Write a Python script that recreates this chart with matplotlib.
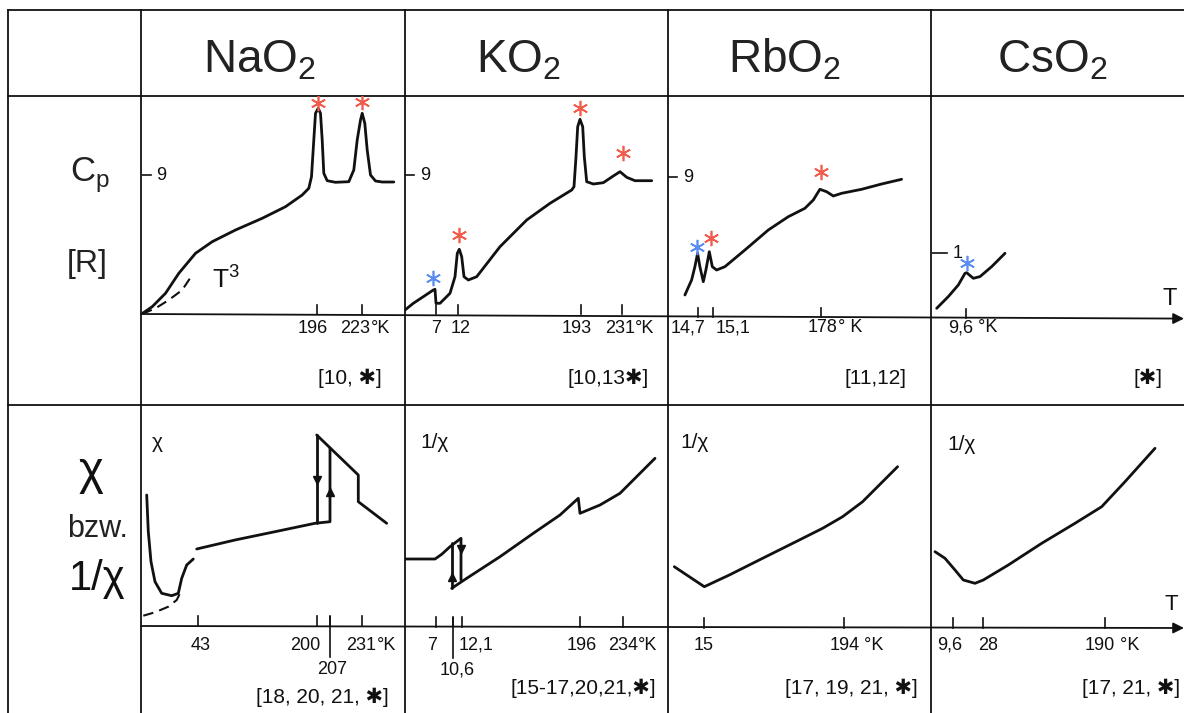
import matplotlib.pyplot as plt

plt.rcParams['font.family'] = ['Liberation Sans', 'DejaVu Sans']
plt.rcParams['mathtext.fontset'] = 'custom'
plt.rcParams['mathtext.rm'] = 'Liberation Sans'

# header / references
compounds = ['NaO', 'KO', 'RbO', 'CsO']
cp_refs = ['[10, ✱]', '[10,13✱]', '[11,12]', '[✱]']
chi_refs = ['[18, 20, 21, ✱]', '[15-17,20,21,✱]', '[17, 19, 21, ✱]', '[17, 21, ✱]']
chi_panel_labels = ['χ', '1/χ', '1/χ', '1/χ']

# ---- Cp row (schematic units, origin = axis crossing) ----
na_cp_x = [0, 10.7, 24, 37.3, 54, 70.7, 94, 120.7, 144, 160.7, 167.3, 170, 172.3, 174, 176.7, 179,
           180.7, 182.3, 185.7, 194, 207.3, 212.3, 215.7, 219, 220.7, 223.3, 225.7, 229, 234, 240.7, 252.3]
na_cp_y = [0, 7.3, 20.7, 40.7, 60.7, 72.3, 84, 95.7, 107.3, 119, 125.7, 137.3, 174, 200.7, 205.7, 200.7,
           174, 140.7, 133.3, 131.7, 132.3, 144, 174, 194, 200.7, 190.7, 164, 139, 133, 132, 132]
na_t3_x = [0.7, 14, 27.3, 40.7, 50.7]
na_t3_y = [0, 5.7, 14, 24, 39]

k_cp_x = [0, 8.3, 18.3, 28.3, 30, 31, 35, 45, 50, 52.3, 54.3, 56.7, 59, 63.3, 71.7, 95, 121.7, 145,
          166.7, 169, 171, 172.7, 175, 177.7, 179.3, 181.7, 188.3, 198.3, 208.3, 215, 221.7, 230, 246.7]
k_cp_y = [4, 10.7, 17.3, 24, 24.7, 10.7, 10.7, 20.7, 37.3, 60.7, 64.7, 57.3, 37.3, 34, 37.3, 67.3, 94,
          110.7, 124, 127.3, 157.3, 187.3, 194.7, 187.3, 157.3, 132.3, 130, 131.3, 138, 142.3, 136.7, 133.3, 133.3]

rb_cp_x = [16.6, 23.3, 26.6, 29.3, 31.6, 35, 37.6, 41, 44, 48.3, 56.6, 76.6, 100, 120, 136.6, 145,
           151.6, 158.3, 165, 173.3, 193.3, 213.3, 233.3]
rb_cp_y = [21.7, 36.7, 50, 63.4, 50, 35, 46.7, 65, 50, 46.7, 50, 66.7, 86.7, 100, 108.4, 116.7,
           127.4, 125, 120.7, 123.4, 127.4, 132.7, 137.4]

cs_cp_x = [5, 16.6, 26.6, 33.3, 35, 41.6, 48.3, 60, 73.3]
cs_cp_y = [10, 21.7, 33.3, 45, 45.6, 40, 41.7, 51.7, 65]

# transition markers (asterisks): x, y, colour
na_star_x, na_star_y, na_star_c = [176.7, 220.7], [211, 212], ['r', 'r']
k_star_x, k_star_y, k_star_c = [28.3, 54.3, 175, 217.7], [35.7, 79, 205.7, 160.7], ['b', 'r', 'r', 'r']
rb_star_x, rb_star_y, rb_star_c = [28.3, 42.6, 152.6], [70, 78.5, 145], ['b', 'r', 'r']
cs_star_x, cs_star_y, cs_star_c = [35.6], [55], ['b']

# Cp axis ticks
na_cp_ticks, na_cp_tlab = [175.7, 220.7], ['196', '223']
k_cp_ticks, k_cp_tlab = [31, 53.3, 176, 216.7], ['7', '12', '193', '231']
rb_cp_ticks, rb_cp_tlab = [29.3, 45, 152.6], ['14,7', '15,1', '178']
cs_cp_ticks, cs_cp_tlab = [34], ['9,6']
cp_units = ['°K', '°K', '° K', ' °K']
cp_ytick = [139, 139, 139.4, 65.3]
cp_ytick_lab = ['9', '9', '9', '1']

# ---- chi row ----
na_tail_x = [5.2, 6.8, 9.5, 13.5, 20.2, 30.2, 36.8, 40.2, 45.2, 51.8]
na_tail_y = [131, 94.3, 64.3, 44.3, 32.7, 30.3, 32.7, 47.7, 61, 67]
na_dash_x = [1.8, 13.5, 26.8, 35.2, 38.5]
na_dash_y = [10.3, 13.7, 19.3, 26, 32.7]
na_chi_x = [55.2, 93.5, 133.5, 173.5, 188.5, 188.5]
na_chi_y = [77, 86, 94.3, 102.7, 104.3, 178]
na_down_x = [175.2, 175.2]
na_down_y = [191, 102.7]
na_high_x = [175.2, 216.8, 216.8, 245.2]
na_high_y = [191, 151, 124.3, 102.7]

k_upper_x = [0, 30, 36.7, 45, 56, 56]
k_upper_y = [67.7, 67.7, 72.4, 80, 88.4, 46.7]
k_left_x = [46.7, 46.7]
k_left_y = [83.4, 38.4]
k_chi_x = [46.7, 61.7, 95, 128.3, 155, 173.3, 175, 195, 215, 228.3, 250]
k_chi_y = [38.4, 48.4, 70, 93.4, 111.7, 128.4, 113.4, 121.7, 133.4, 146.7, 168.4]

rb_chi_x = [6, 21, 36, 61, 94.3, 127.6, 154.3, 174.3, 194.3, 211, 229.3]
rb_chi_y = [61, 51, 41, 52.7, 69.4, 86, 99.4, 111, 126, 142.7, 161]

cs_chi_x = [3.3, 13.3, 23.3, 31.6, 43.3, 51.6, 76.6, 110, 143.3, 170, 193.3, 223.3]
cs_chi_y = [76, 69.4, 57.7, 47.7, 44.4, 47.7, 62.7, 84.4, 104.4, 121, 146, 179.4]

na_chi_ticks, na_chi_tlab = [56.8, 175.2, 188.5, 220.8], ['43', '200', '207', '231']
k_chi_ticks, k_chi_tlab = [31, 48.3, 56.7, 175, 217.7], ['7', '10,6', '12,1', '196', '234']
rb_chi_ticks, rb_chi_tlab = [36, 176], ['15', '194']
cs_chi_ticks, cs_chi_tlab = [21.6, 51.6, 173.3], ['9,6', '28', '190']
chi_units = ['°K', '°K', ' °K', ' °K']

# ---------------- layout (pixels) ----------------
W, H = 1184, 713
col_x = [141.5, 405, 668.3, 931.7]
col_w = [263.5, 263.3, 263.4, 252.3]
cp_oy = [314, 314, 316.7, 318.3]
chi_oy = [626, 626.7, 627.7, 627.7]
LW = 2.0
INK = '#111111'
STAR = {'r': '#f25a4c', 'b': '#5a8cf2'}

fig = plt.figure(figsize=(W / 100, H / 100), dpi=100)
frame = fig.add_axes([0, 0, 1, 1])
frame.set_xlim(0, W)
frame.set_ylim(H, 0)
frame.axis('off')

for y in [10, 96, 405]:
    frame.plot([8, W], [y, y], color=INK, lw=1.3)
for x in [8, 141, 405, 668, 931]:
    frame.plot([x, x], [10, H], color=INK, lw=1.3)
frame.annotate('', xy=(W, 318.6), xytext=(141, 314),
               arrowprops=dict(arrowstyle='-|>', color=INK, lw=1.3, mutation_scale=16, shrinkA=0, shrinkB=0))
frame.annotate('', xy=(W, 628), xytext=(141, 626),
               arrowprops=dict(arrowstyle='-|>', color=INK, lw=1.3, mutation_scale=16, shrinkA=0, shrinkB=0))

# headers
head_x = [203, 476, 728, 997]
for hx, name in zip(head_x, compounds):
    frame.text(hx, 72, name + r'$_\mathregular{2}$', fontsize=33, ha='left', va='baseline', color='#222222')

# row labels
frame.text(70, 182, r'C$_\mathregular{p}$', fontsize=25, ha='left', va='baseline', color='#222222')
frame.text(87, 272, '[R]', fontsize=23, ha='center', va='baseline', color='#222222')
frame.text(91, 484, 'χ', fontsize=34, ha='center', va='baseline', color=INK)
frame.text(98, 537, 'bzw.', fontsize=22, ha='center', va='baseline', color='#222222')
frame.text(97, 590, '1/χ', fontsize=30, ha='center', va='baseline', color=INK)

# T labels at the arrows
frame.text(1170, 305, 'T', fontsize=17, ha='center', va='baseline', color=INK)
frame.text(1171, 610, 'T', fontsize=16, ha='center', va='baseline', color=INK)

# references
for cx, ref in zip([350, 608, 876, 1148], cp_refs):
    frame.text(cx, 378, ref, fontsize=15, ha='center', va='center', color=INK)
for cx, cy, ref in zip([322, 583, 851, 1131], [697, 688, 688, 688], chi_refs):
    frame.text(cx, cy, ref, fontsize=15, ha='center', va='center', color=INK)


def panel(i, oy, top):
    ax = fig.add_axes([col_x[i] / W, (H - oy) / H, col_w[i] / W, (oy - top) / H])
    ax.set_xlim(0, col_w[i])
    ax.set_ylim(0, oy - top)
    ax.axis('off')
    return ax


def tick_labels(ax, ticks, labels, lx, ly, unit, tick_h, second=()):
    for t in ticks:
        ax.plot([t, t], [0, tick_h], color=INK, lw=1.2, clip_on=False)
    last = None
    for j, (x, lab) in enumerate(zip(lx, labels)):
        y = ly - 25 if j in second else ly
        txt = ax.text(x, y, lab, fontsize=13, ha='center', va='center', color=INK)
        if j not in second:
            last = txt
    ax.annotate(unit, xy=(1, 0), xycoords=last, ha='left', va='bottom', fontsize=13, color=INK)


# ---- Cp panels ----
cp_data = [
    (na_cp_x, na_cp_y, na_star_x, na_star_y, na_star_c, na_cp_ticks, na_cp_tlab, [171, 214]),
    (k_cp_x, k_cp_y, k_star_x, k_star_y, k_star_c, k_cp_ticks, k_cp_tlab, [31, 56, 172, 215]),
    (rb_cp_x, rb_cp_y, rb_star_x, rb_star_y, rb_star_c, rb_cp_ticks, rb_cp_tlab, [19.5, 64.5, 154.6]),
    (cs_cp_x, cs_cp_y, cs_star_x, cs_star_y, cs_star_c, cs_cp_ticks, cs_cp_tlab, [28.6]),
]
for i, (cx, cy, sx, sy, sc, ticks, tlab, lx) in enumerate(cp_data):
    ax = panel(i, cp_oy[i], 96)
    ax.plot(cx, cy, color=INK, lw=LW, solid_capstyle='round', solid_joinstyle='round')
    for x, y, c in zip(sx, sy, sc):
        ax.plot(x, y, marker=(6, 2, 0), ms=11, mew=1.2, color=STAR[c], linestyle='none')
    tick_labels(ax, ticks, tlab, lx, cp_oy[i] - 328, cp_units[i], 9)
    tl = 15 if i == 3 else 9
    ax.plot([0, tl], [cp_ytick[i], cp_ytick[i]], color=INK, lw=1.2)
    ax.text(tl + 11, cp_ytick[i], cp_ytick_lab[i], fontsize=13, ha='center', va='center', color=INK)
    if i == 0:
        ax.plot(na_t3_x, na_t3_y, color=INK, lw=1.5, dashes=(5, 3))
        ax.text(71, 26, r'T$^\mathregular{3}$', fontsize=19, ha='left', va='baseline', color=INK)

# ---- chi panels ----
chi_lx = [[59.5, 164, 190.5, 220], [27.5, 52, 71.5, 177, 218], [35, 176], [18, 56, 168]]
chi_ticks = [na_chi_ticks, k_chi_ticks, rb_chi_ticks, cs_chi_ticks]
chi_tlab = [na_chi_tlab, k_chi_tlab, rb_chi_tlab, cs_chi_tlab]
chi_second = [(2,), (1,), (), ()]
chi_long = [188.5, 48.3]
label_pos = [(10.5, 178), (15, 178.7), (11.7, 179.7), (15.6, 177.7)]

axes_chi = []
for i in range(4):
    ax = panel(i, chi_oy[i], 405)
    axes_chi.append(ax)
    tick_labels(ax, chi_ticks[i], chi_tlab[i], chi_lx[i], chi_oy[i] - 645, chi_units[i], 10, chi_second[i])
    if i < 2:
        ax.plot([chi_long[i], chi_long[i]], [9, -31], color=INK, lw=1.2, clip_on=False)
    ax.text(label_pos[i][0], label_pos[i][1], chi_panel_labels[i], fontsize=15,
            ha='left', va='baseline', color=INK)

ax = axes_chi[0]
kw = dict(color=INK, lw=LW, solid_capstyle='round', solid_joinstyle='round')
ax.plot(na_tail_x, na_tail_y, **kw)
ax.plot(na_dash_x, na_dash_y, color=INK, lw=1.5, dashes=(5, 3))
ax.plot(na_chi_x, na_chi_y, **kw)
ax.plot(na_down_x, na_down_y, **kw)
ax.plot(na_high_x, na_high_y, **kw)
ax.plot(na_down_x[0], 146, marker='v', ms=6, color=INK)
ax.plot(na_chi_x[-1], 134, marker='^', ms=6, color=INK)

ax = axes_chi[1]
ax.plot(k_upper_x, k_upper_y, **kw)
ax.plot(k_left_x, k_left_y, **kw)
ax.plot(k_chi_x, k_chi_y, **kw)
ax.plot(k_left_x[0], 50, marker='^', ms=6, color=INK)
ax.plot(k_upper_x[-1], 78, marker='v', ms=6, color=INK)

axes_chi[2].plot(rb_chi_x, rb_chi_y, **kw)
axes_chi[3].plot(cs_chi_x, cs_chi_y, **kw)

fig.savefig('out.png', dpi=100, facecolor='white')
